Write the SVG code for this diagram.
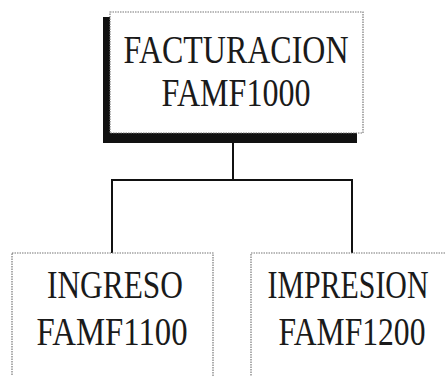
<svg xmlns="http://www.w3.org/2000/svg" width="445" height="376" viewBox="0 0 445 376">
<style>
.box{fill:#fff;stroke:#777;stroke-width:1.2;stroke-dasharray:1.5 1}
.t{font-family:"Liberation Serif","Times New Roman",serif;font-size:41px;fill:#1a1a1a;text-anchor:middle}
.c{fill:none;stroke:#111;stroke-width:2}
</style>
<rect width="445" height="376" fill="#fff"/>
<g id="connectors">
<path class="c" d="M233 143V180M112 180H353M112 179V253M352 179V253"/>
</g>
<g id="facturacion">
<rect x="103" y="17" width="254" height="126" fill="#111"/>
<rect class="box" x="110" y="12" width="253" height="121"/>
<text class="t" x="236" y="63" textLength="225" lengthAdjust="spacingAndGlyphs">FACTURACION</text>
<text class="t" x="236" y="106" textLength="149" lengthAdjust="spacingAndGlyphs">FAMF1000</text>
</g>
<g id="ingreso">
<rect class="box" x="12" y="253" width="201" height="125"/>
<text class="t" x="115" y="298" textLength="136" lengthAdjust="spacingAndGlyphs">INGRESO</text>
<text class="t" x="112" y="345" textLength="151" lengthAdjust="spacingAndGlyphs">FAMF1100</text>
</g>
<g id="impresion">
<rect class="box" x="251" y="253" width="200" height="125"/>
<text class="t" x="348" y="298" textLength="161" lengthAdjust="spacingAndGlyphs">IMPRESION</text>
<text class="t" x="352" y="345" textLength="147" lengthAdjust="spacingAndGlyphs">FAMF1200</text>
</g>
</svg>
